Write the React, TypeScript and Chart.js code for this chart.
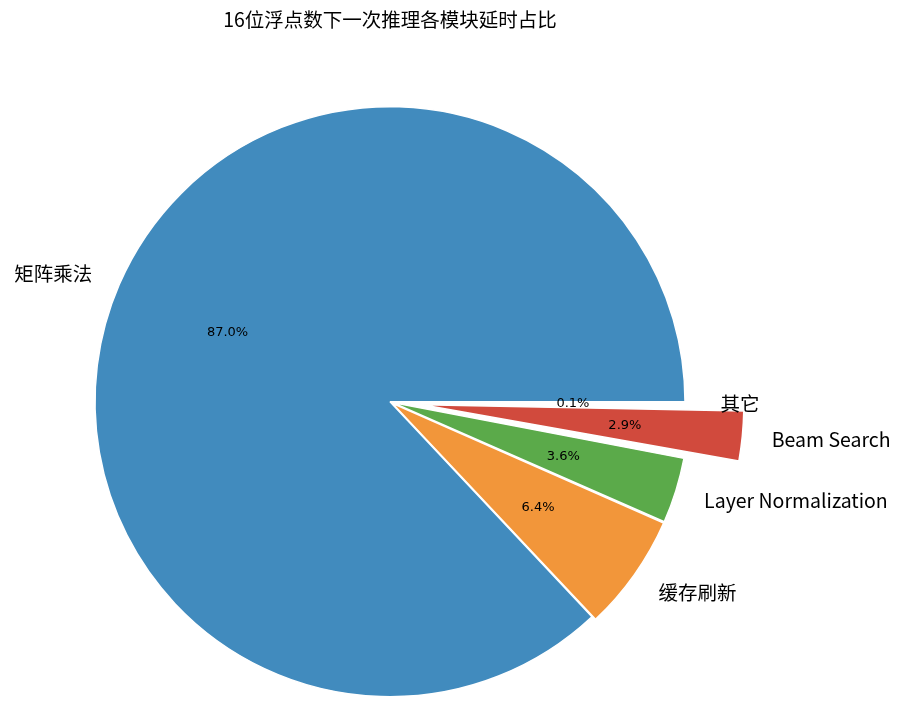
import React, { useEffect, useRef } from "react";
import { Chart, registerables } from "chart.js";

Chart.register(...registerables);

// ---- data (matplotlib order: counter-clockwise from east) ----
const labels = ["矩阵乘法", "缓存刷新", "Layer Normalization", "Beam Search", "其它"];
const values = [87.0, 6.4, 3.6, 2.9, 0.1];
const explode = [0, 0.015, 0.015, 0.2, 0.02];
const colors = ["#418BBE", "#F2963A", "#5BAA4A", "#D14A3D", "#9B7FD1"];
const titleText = "16位浮点数下一次推理各模块延时占比";

const RADIUS = 295;
const LABEL_DIST = 1.1;
const PCT_DIST = 0.6;
const CJK = "'Noto Sans CJK SC', 'Noto Sans', sans-serif";

// Chart.js draws clockwise; reverse so the result matches matplotlib's ccw layout
const order = values.map((_, i) => values.length - 1 - i);
const total = values.reduce((a, b) => a + b, 0);

function offsetFor(i: number): number {
  const circ = (values[i] / total) * Math.PI * 2;
  const fix = 1 - Math.sin(Math.min(Math.PI, circ));
  return (explode[i] * RADIUS * 4) / (1 + fix);
}

const labelPlugin = {
  id: "pieLabels",
  afterDatasetsDraw(chart: any) {
    const ctx = chart.ctx as CanvasRenderingContext2D;
    const meta = chart.getDatasetMeta(0);
    meta.data.forEach((arc: any, j: number) => {
      const i = order[j];
      const p = arc.getProps(["x", "y", "startAngle", "endAngle", "outerRadius", "circumference"], true);
      const off = (arc.options.offset || 0) / 4;
      const fix = 1 - Math.sin(Math.min(Math.PI, p.circumference));
      const shift = off * (1 + fix);
      const mid = (p.startAngle + p.endAngle) / 2;
      const cx = p.x + Math.cos(mid) * shift;
      const cy = p.y + Math.sin(mid) * shift + 1;
      const r = p.outerRadius;
      ctx.save();
      // outer label
      ctx.font = `19.5px ${CJK}`;
      ctx.fillStyle = "#000";
      ctx.textBaseline = "middle";
      ctx.textAlign = Math.cos(mid) >= 0 ? "left" : "right";
      ctx.fillText(labels[i], cx + Math.cos(mid) * r * LABEL_DIST, cy + Math.sin(mid) * r * LABEL_DIST);
      // percentage
      ctx.font = "13px 'DejaVu Sans', sans-serif";
      ctx.textAlign = "center";
      const pct = ((values[i] / total) * 100).toFixed(1) + "%";
      ctx.fillText(pct, cx + Math.cos(mid) * r * PCT_DIST, cy + Math.sin(mid) * r * PCT_DIST);
      ctx.restore();
    });
  },
};

export default function App() {
  const ref = useRef<HTMLCanvasElement | null>(null);
  useEffect(() => {
    if (!ref.current) return;
    const chart = new Chart(ref.current, {
      type: "pie",
      data: {
        labels: order.map((i) => labels[i]),
        datasets: [
          {
            data: order.map((i) => values[i]),
            backgroundColor: order.map((i) => colors[i]),
            borderColor: "#ffffff",
            borderWidth: 1.5,
            offset: order.map((i) => offsetFor(i)),
            radius: RADIUS,
            rotation: 90,
            clip: false,
          } as any,
        ],
      },
      options: {
        animation: false,
        responsive: false,
        rotation: 90,
        radius: RADIUS,
        layout: { padding: { left: 0, right: 124, top: 0, bottom: 0 } },
        events: [],
        plugins: {
          legend: { display: false },
          tooltip: { enabled: false },
          title: {
            display: true,
            text: titleText,
            color: "#000",
            font: { family: CJK, size: 19.5, weight: "normal", lineHeight: 1.2 },
            padding: { top: 8, bottom: 68 },
          },
        },
      } as any,
      plugins: [labelPlugin],
    });
    return () => chart.destroy();
  }, []);
  return (
    <div style={{ position: "absolute", left: 0, top: 0, width: 904, height: 704, background: "#fff" }}>
      <canvas ref={ref} width={904} height={704} style={{ display: "block" }} />
    </div>
  );
}
